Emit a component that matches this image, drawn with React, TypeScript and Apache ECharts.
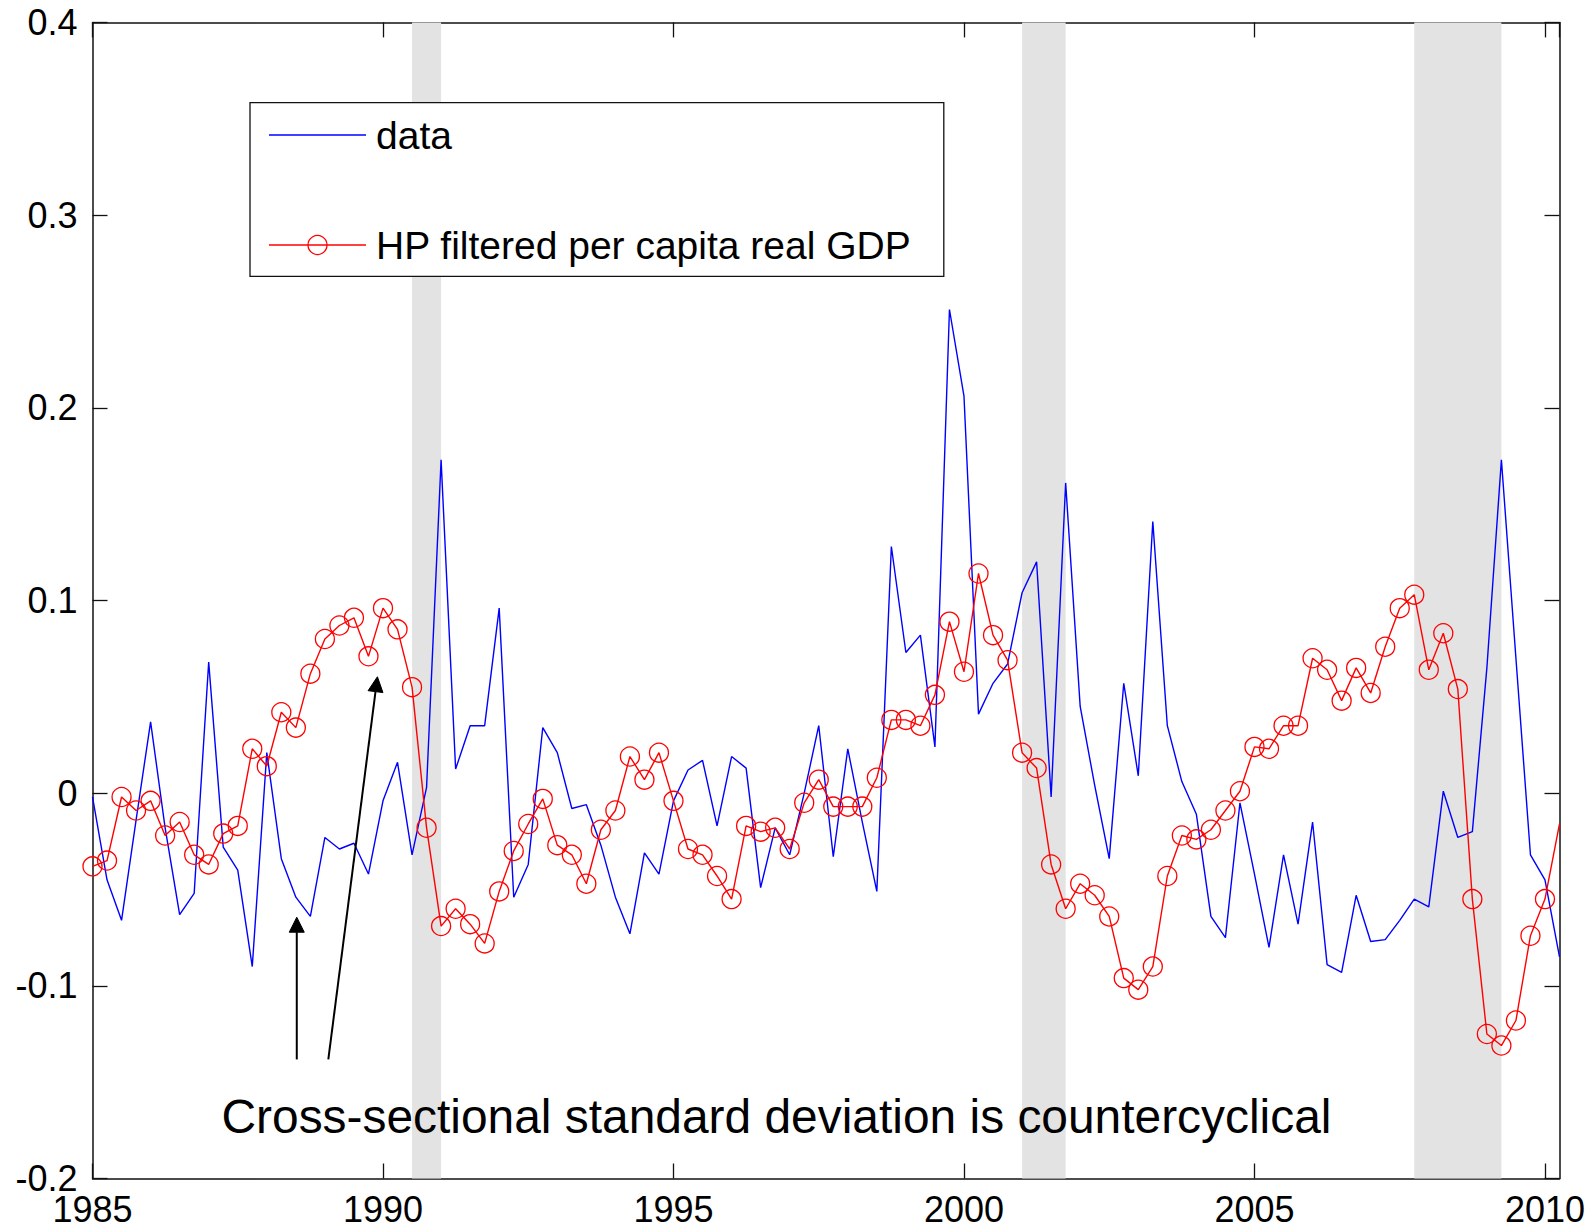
import React, { useEffect, useRef } from "react";
import * as echarts from "echarts";

const START_YEAR = 1985;
const STEP = 0.25;

const dataValues = [
  -0.002, -0.045, -0.066, -0.014, 0.037, -0.018, -0.063, -0.052, 0.068, -0.028,
  -0.040, -0.090, 0.021, -0.034, -0.054, -0.064, -0.023, -0.029, -0.026, -0.042,
  -0.004, 0.016, -0.032, 0.003, 0.173, 0.0125, 0.035, 0.035, 0.096, -0.054,
  -0.037, 0.034, 0.021, -0.008, -0.006, -0.027, -0.054, -0.073, -0.031, -0.042,
  -0.004, 0.012, 0.017, -0.017, 0.019, 0.013, -0.049, -0.018, -0.032, 0.000,
  0.035, -0.033, 0.023, -0.015, -0.051, 0.128, 0.073, 0.082, 0.024, 0.251,
  0.206, 0.041, 0.057, 0.067, 0.104, 0.120, -0.002, 0.161, 0.045, 0.004,
  -0.034, 0.057, 0.009, 0.141, 0.035, 0.006, -0.011, -0.064, -0.075, -0.005,
  -0.042, -0.080, -0.032, -0.068, -0.015, -0.089, -0.093, -0.053, -0.077, -0.076,
  -0.066, -0.055, -0.059, 0.001, -0.023, -0.020, 0.065, 0.173, 0.070, -0.032,
  -0.045, -0.085,
];

const hpValues = [
  -0.038, -0.035, -0.002, -0.009, -0.004, -0.022, -0.015, -0.032, -0.037, -0.021,
  -0.017, 0.023, 0.014, 0.042, 0.034, 0.062, 0.080, 0.087, 0.091, 0.071,
  0.096, 0.085, 0.055, -0.018, -0.069, -0.060, -0.068, -0.078, -0.051, -0.030,
  -0.016, -0.003, -0.027, -0.032, -0.047, -0.019, -0.009, 0.019, 0.007, 0.021,
  -0.004, -0.029, -0.032, -0.043, -0.055, -0.017, -0.020, -0.018, -0.029, -0.005,
  0.007, -0.007, -0.007, -0.007, 0.008, 0.038, 0.038, 0.035, 0.051, 0.089,
  0.063, 0.114, 0.082, 0.069, 0.021, 0.013, -0.037, -0.060, -0.047, -0.053,
  -0.064, -0.096, -0.102, -0.090, -0.043, -0.022, -0.024, -0.019, -0.009, 0.001,
  0.024, 0.023, 0.035, 0.035, 0.070, 0.064, 0.048, 0.065, 0.052, 0.076,
  0.096, 0.103, 0.064, 0.083, 0.054, -0.055, -0.125, -0.131, -0.118, -0.074,
  -0.055, -0.016,
];

const recessions = [
  [1990.5, 1991.0],
  [2001.0, 2001.75],
  [2007.75, 2009.25],
];

const xMin = 1985;
const xMax = 2010.25;
const xInterval = 5;
const yMin = -0.2;
const yMax = 0.4;
const yInterval = 0.1;

const legendLabels = ["data", "HP filtered per capita real GDP"];

// arrows: [x0, y0, x1 (tip), y1 (tip)] in data coordinates
const arrows = [
  [1988.516, -0.1382, 1988.516, -0.0644],
  [1989.059, -0.1382, 1989.904, 0.0604],
];

const annotationText = "Cross-sectional standard deviation is countercyclical";
const annotationPos = [1987.22, -0.168];

const FONT = '"Liberation Sans", Arial, Helvetica, sans-serif';

export default function App() {
  const ref = useRef<HTMLDivElement>(null);

  useEffect(() => {
    if (!ref.current) return;
    const chart = echarts.init(ref.current, null, { renderer: "svg" });

    const toPts = (vals: number[]) =>
      vals.map((v, i) => {
        const x = START_YEAR + i * STEP;
        if (x >= xMax) return { value: [x, v], symbol: "none" };
        return { value: [x, v] };
      });

    const axisLineStyle = { color: "#111", width: 1.5 };
    const tickStyle = { color: "#111", width: 1.3 };

    const option: any = {
      animation: false,
      backgroundColor: "#fff",
      grid: { left: 92.5, right: 33.5, top: 22.4, bottom: 52.5, containLabel: false },
      xAxis: [
        {
          type: "value",
          min: xMin,
          max: xMax,
          interval: xInterval,
          position: "bottom",
          axisLine: { show: true, onZero: false, lineStyle: axisLineStyle },
          axisTick: { show: true, inside: true, length: 15, lineStyle: tickStyle },
          splitLine: { show: false },
          axisLabel: {
            show: true,
            margin: 13,
            fontSize: 36,
            fontFamily: FONT,
            color: "#000",
            showMaxLabel: false,
            formatter: (v: number) => (Math.abs(v % 5) < 1e-9 ? String(v) : ""),
          },
        },
        {
          type: "value",
          min: xMin,
          max: xMax,
          interval: xInterval,
          position: "top",
          axisLine: { show: true, onZero: false, lineStyle: axisLineStyle },
          axisTick: { show: true, inside: true, length: 15, lineStyle: tickStyle },
          splitLine: { show: false },
          axisLabel: { show: false },
        },
      ],
      yAxis: [
        {
          type: "value",
          min: yMin,
          max: yMax,
          interval: yInterval,
          position: "left",
          axisLine: { show: true, onZero: false, lineStyle: axisLineStyle },
          axisTick: { show: true, inside: true, length: 15, lineStyle: tickStyle },
          splitLine: { show: false },
          axisLabel: {
            show: true,
            margin: 15,
            fontSize: 36,
            fontFamily: FONT,
            color: "#000",
            formatter: (v: number) => {
              const r = Math.round(v * 10) / 10;
              return r === 0 ? "0" : String(r);
            },
          },
        },
        {
          type: "value",
          min: yMin,
          max: yMax,
          interval: yInterval,
          position: "right",
          axisLine: { show: true, onZero: false, lineStyle: axisLineStyle },
          axisTick: { show: true, inside: true, length: 15, lineStyle: tickStyle },
          splitLine: { show: false },
          axisLabel: { show: false },
        },
      ],
      series: [
        {
          name: "recessions",
          type: "line",
          data: [],
          z: 1,
          silent: true,
          markArea: {
            silent: true,
            itemStyle: { color: "#e3e3e3" },
            data: recessions.map(([a, b]) => [{ xAxis: a }, { xAxis: b }]),
          },
        },
        {
          name: legendLabels[0],
          type: "line",
          data: toPts(dataValues),
          symbol: "none",
          lineStyle: { color: "#0000ff", width: 1.4 },
          itemStyle: { color: "#0000ff" },
          z: 3,
          silent: true,
        },
        {
          name: legendLabels[1],
          type: "line",
          data: toPts(hpValues),
          symbol: "circle",
          symbolSize: 19,
          showAllSymbol: true,
          lineStyle: { color: "#ff0000", width: 1.4 },
          itemStyle: { color: "rgba(0,0,0,0)", borderColor: "#ff0000", borderWidth: 1.3 },
          z: 4,
          silent: true,
        },
      ],
    };

    chart.setOption(option);

    const graphics: any[] = [];

    // arrows
    arrows.forEach(([x0, y0, x1, y1]) => {
      const p0 = chart.convertToPixel({ gridIndex: 0 }, [x0, y0]) as number[];
      const p1 = chart.convertToPixel({ gridIndex: 0 }, [x1, y1]) as number[];
      const ang = Math.atan2(p1[1] - p0[1], p1[0] - p0[0]);
      const c = Math.cos(ang);
      const s = Math.sin(ang);
      const L = 15;
      const W = 7.5;
      const bx = p1[0] - L * c;
      const by = p1[1] - L * s;
      graphics.push({
        type: "line",
        shape: { x1: p0[0], y1: p0[1], x2: bx, y2: by },
        style: { stroke: "#000", lineWidth: 2 },
        z: 50,
      });
      graphics.push({
        type: "polygon",
        shape: {
          points: [
            [p1[0], p1[1]],
            [bx - W * s, by + W * c],
            [bx + W * s, by - W * c],
          ],
        },
        style: { fill: "#000", stroke: "#000", lineWidth: 1 },
        z: 50,
      });
    });

    // annotation text
    const ap = chart.convertToPixel({ gridIndex: 0 }, annotationPos) as number[];
    graphics.push({
      type: "text",
      x: ap[0],
      y: ap[1],
      style: {
        text: annotationText,
        fontSize: 47.9,
        fontFamily: FONT,
        fill: "#000",
        align: "left",
        verticalAlign: "middle",
      },
      z: 50,
    });

    // legend box (MATLAB-style)
    const lx = 250;
    const ly = 102.6;
    const lw = 693.8;
    const lh = 173.7;
    const row1 = 135;
    const row2 = 245;
    graphics.push({
      type: "rect",
      shape: { x: lx, y: ly, width: lw, height: lh },
      style: { fill: "#fff", stroke: "#111", lineWidth: 1.3 },
      z: 60,
    });
    graphics.push({
      type: "line",
      shape: { x1: 269, y1: row1, x2: 366, y2: row1 },
      style: { stroke: "#0000ff", lineWidth: 1.4 },
      z: 61,
    });
    graphics.push({
      type: "line",
      shape: { x1: 269, y1: row2, x2: 366, y2: row2 },
      style: { stroke: "#ff0000", lineWidth: 1.4 },
      z: 61,
    });
    graphics.push({
      type: "circle",
      shape: { cx: 317.5, cy: row2, r: 9.5 },
      style: { fill: "none", stroke: "#ff0000", lineWidth: 1.3 },
      z: 62,
    });
    graphics.push({
      type: "text",
      x: 376,
      y: row1,
      style: {
        text: legendLabels[0],
        fontSize: 39,
        fontFamily: FONT,
        fill: "#000",
        align: "left",
        verticalAlign: "middle",
      },
      z: 62,
    });
    graphics.push({
      type: "text",
      x: 376,
      y: row2,
      style: {
        text: legendLabels[1],
        fontSize: 39,
        fontFamily: FONT,
        fill: "#000",
        align: "left",
        verticalAlign: "middle",
      },
      z: 62,
    });

    chart.setOption({ graphic: graphics });

    return () => {
      chart.dispose();
    };
  }, []);

  return (
    <div
      ref={ref}
      style={{ position: "absolute", left: 0, top: 0, width: 1593, height: 1231, background: "#fff" }}
    />
  );
}
